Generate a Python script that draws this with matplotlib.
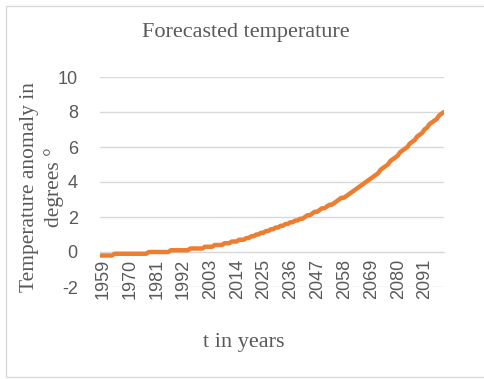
import numpy as np
import matplotlib.pyplot as plt
import matplotlib.transforms as mtransforms
from matplotlib.patches import Rectangle

plt.rcParams['axes.unicode_minus'] = False

# forecast years and temperature anomaly (degrees)
years = np.arange(1959, 2101)
anomaly = [
    -0.2, -0.2, -0.2, -0.2, -0.2, -0.2, -0.1, -0.1, -0.1, -0.1,   # 1959-1968
    -0.1, -0.1, -0.1, -0.1, -0.1, -0.1, -0.1, -0.1, -0.1, -0.1,   # 1969-1978
    0.0, 0.0, 0.0, 0.0, 0.0, 0.0, 0.0, 0.0, 0.0, 0.1,             # 1979-1988
    0.1, 0.1, 0.1, 0.1, 0.1, 0.1, 0.1, 0.2, 0.2, 0.2,             # 1989-1998
    0.2, 0.2, 0.2, 0.3, 0.3, 0.3, 0.3, 0.4, 0.4, 0.4,             # 1999-2008
    0.4, 0.5, 0.5, 0.5, 0.6, 0.6, 0.6, 0.7, 0.7, 0.7,             # 2009-2018
    0.8, 0.8, 0.9, 0.9, 1.0, 1.0, 1.1, 1.1, 1.2, 1.2,             # 2019-2028
    1.3, 1.3, 1.4, 1.4, 1.5, 1.5, 1.6, 1.6, 1.7, 1.7,             # 2029-2038
    1.8, 1.8, 1.9, 1.9, 2.0, 2.1, 2.1, 2.2, 2.3, 2.3,             # 2039-2048
    2.4, 2.5, 2.5, 2.6, 2.7, 2.7, 2.8, 2.9, 3.0, 3.1,             # 2049-2058
    3.1, 3.2, 3.3, 3.4, 3.5, 3.6, 3.7, 3.8, 3.9, 4.0,             # 2059-2068
    4.1, 4.2, 4.3, 4.4, 4.5, 4.7, 4.8, 4.9, 5.0, 5.2,             # 2069-2078
    5.3, 5.4, 5.5, 5.7, 5.8, 5.9, 6.0, 6.2, 6.3, 6.4,             # 2079-2088
    6.6, 6.7, 6.8, 7.0, 7.1, 7.3, 7.4, 7.5, 7.6, 7.8,             # 2089-2098
    7.9, 8.0,                                                     # 2099-2100
]
tick_years = list(range(1959, 2101, 11))
y_ticks = [-2, 0, 2, 4, 6, 8, 10]

grey = '#595959'
grid_col = '#D9D9D9'
serif = ['Liberation Serif', 'DejaVu Serif']
sans = ['Liberation Sans', 'DejaVu Sans']

fig = plt.figure(figsize=(4.84, 3.79), dpi=100)
ax = fig.add_axes([100 / 484, 1 - 287 / 379, 344 / 484, 210 / 379])

ax.plot(years, anomaly, color='#ED7D31', linewidth=3.2, solid_capstyle='round',
        solid_joinstyle='round', zorder=3)

ax.set_xlim(1959, 2100)
ax.set_ylim(-2, 10)
ax.set_yticks(y_ticks)
ax.set_xticks(tick_years)
ax.set_xticklabels([str(y) for y in tick_years])

ax.grid(axis='y', color=grid_col, linewidth=1)
ax.set_axisbelow(True)
for side in ['top', 'right', 'left']:
    ax.spines[side].set_visible(False)
ax.spines['bottom'].set_position(('data', 0))
ax.spines['bottom'].set_color(grid_col)
ax.tick_params(axis='both', length=0, labelcolor=grey, labelsize=13)
ax.tick_params(axis='x', pad=5, labelrotation=90)
ax.tick_params(axis='y', pad=16)
for lbl in ax.get_xticklabels() + ax.get_yticklabels():
    lbl.set_family(sans)

# nudge the year labels slightly right
shift = mtransforms.ScaledTranslation(3 / 100, 0, fig.dpi_scale_trans)
for lbl in ax.get_xticklabels():
    lbl.set_transform(lbl.get_transform() + shift)

fig.text(246 / 484, 1 - 33 / 379, 'Forecasted temperature', ha='center',
         va='center', fontsize=16, color=grey, family=serif)
fig.text(244 / 484, 1 - 343 / 379, 't in years', ha='center', va='center',
         fontsize=16, color=grey, family=serif)
fig.text(42 / 484, 1 - 187 / 379, 'Temperature anomaly in\ndegrees °',
         ha='center', va='center', rotation=90, fontsize=15.5, color=grey,
         family=serif, linespacing=1.3, multialignment='center')

# chart frame
fig.patches.append(Rectangle((6 / 484, 2 / 379), 490 / 484, 371 / 379,
                             transform=fig.transFigure, fill=False,
                             edgecolor=grid_col, linewidth=1))

fig.savefig('out.png', dpi=100, facecolor='white')
